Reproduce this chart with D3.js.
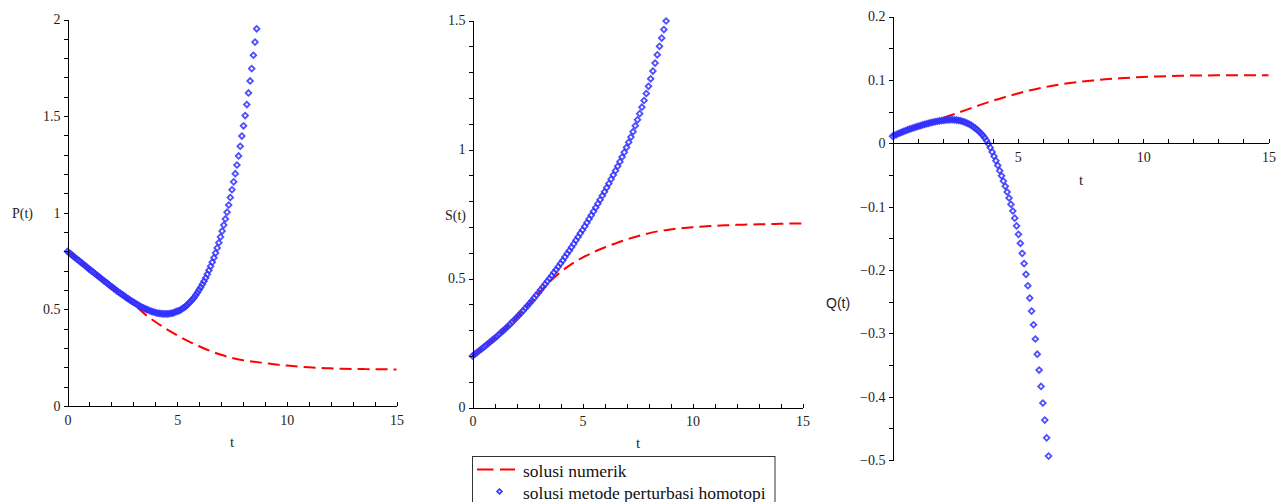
<!DOCTYPE html>
<html>
<head>
<meta charset="utf-8">
<script src="https://cdn.jsdelivr.net/npm/d3@7"></script>
<style>
  body { margin: 0; background: #fff; }
  svg { display: block; }
</style>
</head>
<body>
<div id="chart"></div>
<script>
// numerical solution, sampled every 0.5 in t
const tRed = [0, 0.5, 1, 1.5, 2, 2.5, 3, 3.5, 4, 4.5, 5, 5.5, 6, 6.5, 7, 7.5,
    8, 8.5, 9, 9.5, 10, 10.5, 11, 11.5, 12, 12.5, 13, 13.5, 14, 14.5, 15]
const pRed = [0.800, 0.754, 0.708, 0.663, 0.618, 0.575, 0.528, 0.478, 0.436, 0.399, 0.366,
    0.336, 0.309, 0.285, 0.265, 0.249, 0.237, 0.229, 0.222, 0.215, 0.209, 0.204, 0.200,
    0.197, 0.195, 0.193, 0.192, 0.191, 0.190, 0.190, 0.189]
const sRed = [0.200, 0.233, 0.268, 0.306, 0.348, 0.394, 0.442, 0.487, 0.525, 0.556, 0.581,
    0.602, 0.620, 0.636, 0.651, 0.664, 0.675, 0.684, 0.690, 0.695, 0.699, 0.702, 0.704,
    0.706, 0.708, 0.709, 0.710, 0.711, 0.712, 0.713, 0.713]
const qRed = [0.0110, 0.0195, 0.0265, 0.0330, 0.0395, 0.0465, 0.0535, 0.0605, 0.0670, 0.0730,
    0.0785, 0.0835, 0.0878, 0.0915, 0.0945, 0.0970, 0.0990, 0.1008, 0.1022, 0.1035, 0.1045,
    0.1053, 0.1060, 0.1065, 0.1068, 0.1070, 0.1071, 0.1072, 0.1073, 0.1073, 0.1073]

// homotopy perturbation points, one every <step> from t = 0
const pStep = 0.075
const pHpm = [0.800, 0.793, 0.786, 0.779, 0.772, 0.765, 0.758, 0.752, 0.745, 0.738,
    0.731, 0.724, 0.717, 0.710, 0.703, 0.697, 0.690, 0.683, 0.676, 0.670,
    0.663, 0.656, 0.649, 0.643, 0.636, 0.629, 0.622, 0.616, 0.609, 0.603,
    0.596, 0.590, 0.584, 0.578, 0.572, 0.566, 0.560, 0.554, 0.548, 0.543,
    0.538, 0.532, 0.527, 0.522, 0.517, 0.512, 0.508, 0.504, 0.500, 0.497,
    0.493, 0.490, 0.487, 0.485, 0.482, 0.480, 0.479, 0.478, 0.477, 0.477,
    0.477, 0.477, 0.478, 0.480, 0.481, 0.484, 0.488, 0.491, 0.494, 0.499,
    0.505, 0.510, 0.517, 0.525, 0.534, 0.542, 0.552, 0.562, 0.574, 0.587,
    0.601, 0.614, 0.630, 0.646, 0.663, 0.682, 0.702, 0.723, 0.744, 0.767,
    0.792, 0.818, 0.845, 0.875, 0.905, 0.936, 0.968, 1.003, 1.040, 1.079,
    1.119, 1.160, 1.202, 1.247, 1.294, 1.344, 1.397, 1.450, 1.503, 1.560,
    1.620, 1.682, 1.746, 1.815, 1.883, 1.952]

const sStep = 0.1
const sHpm = [0.200, 0.206, 0.213, 0.220, 0.226, 0.233, 0.240, 0.247, 0.254, 0.261,
    0.268, 0.275, 0.283, 0.291, 0.298, 0.306, 0.314, 0.322, 0.331, 0.339,
    0.348, 0.357, 0.366, 0.375, 0.385, 0.394, 0.404, 0.414, 0.424, 0.435,
    0.445, 0.456, 0.467, 0.478, 0.489, 0.500, 0.511, 0.523, 0.534, 0.546,
    0.558, 0.570, 0.583, 0.596, 0.608, 0.621, 0.634, 0.648, 0.661, 0.675,
    0.688, 0.702, 0.716, 0.731, 0.745, 0.760, 0.775, 0.790, 0.805, 0.821,
    0.836, 0.852, 0.868, 0.885, 0.901, 0.918, 0.935, 0.953, 0.971, 0.989,
    1.008, 1.028, 1.048, 1.069, 1.092, 1.115, 1.139, 1.164, 1.190, 1.217,
    1.245, 1.274, 1.304, 1.335, 1.367, 1.400, 1.432, 1.465, 1.498]

const qStep = 0.075
const qHpm = [0.0110, 0.0124, 0.0137, 0.0150, 0.0163, 0.0175, 0.0187, 0.0199, 0.0210, 0.0221,
    0.0231, 0.0241, 0.0251, 0.0261, 0.0270, 0.0279, 0.0288, 0.0296, 0.0305, 0.0313,
    0.0320, 0.0328, 0.0335, 0.0341, 0.0347, 0.0352, 0.0357, 0.0361, 0.0365, 0.0367,
    0.0369, 0.0370, 0.0370, 0.0369, 0.0366, 0.0361, 0.0355, 0.0347, 0.0337, 0.0326,
    0.0313, 0.0297, 0.0280, 0.0260, 0.0238, 0.0213, 0.0187, 0.0157, 0.0125, 0.0088,
    0.0043, -0.0010, -0.0070, -0.0138, -0.0205, -0.0275, -0.0350, -0.0433, -0.0515, -0.0598,
    -0.0680, -0.0770, -0.0865, -0.0965, -0.1070, -0.1183, -0.1305, -0.1438, -0.1580, -0.1738,
    -0.1900, -0.2070, -0.2250, -0.2445, -0.2650, -0.2865, -0.3090, -0.3330, -0.3580, -0.3838,
    -0.4100, -0.4370, -0.4650, -0.4938]

// ticks
const tTicks = [0, 5, 10, 15]
const tTicksQ = [5, 10, 15]
const pTicks = [0, 0.5, 1, 1.5, 2]
const sTicks = [0, 0.5, 1, 1.5]
const qTicks = [-0.5, -0.4, -0.3, -0.2, -0.1, 0, 0.1, 0.2]

const legendLabels = ["solusi numerik", "solusi metode perturbasi homotopi"]

const serif = "Liberation Serif, Times New Roman, serif"
const sans = "Liberation Sans, Arial, sans-serif"
const red = "#ff0000", blue = "#3030ff"

const svg = d3.select("#chart")
    .append("svg")
    .attr("width", 1288)
    .attr("height", 502)
    .style("font-family", serif)

function styleAxis(g) {
    g.attr("font-family", null).attr("font-size", null)
    g.style("font-family", serif).style("font-size", "14px")
    g.selectAll(".domain").attr("stroke", "#000")
    g.selectAll(".tick line").attr("stroke", "#000")
    g.selectAll(".tick text").attr("fill", "#1e1e1e")
}

function drawPanel(p) {
    const x = d3.scaleLinear().domain([0, 15]).range(p.xRange)
    const y = d3.scaleLinear().domain(p.yDomain).range(p.yRange)
    const g = svg.append("g")

    // numerical solution (dashed)
    const line = d3.line()
        .x((d, i) => x(tRed[i]))
        .y(d => y(d))
        .curve(d3.curveMonotoneX)

    g.append("path")
        .datum(p.red)
        .attr("fill", "none")
        .attr("stroke", red)
        .attr("stroke-width", 2)
        .attr("stroke-dasharray", "12,6")
        .attr("d", line)

    // homotopy perturbation points
    g.append("g")
        .selectAll("path")
        .data(p.hpm)
        .join("path")
        .attr("transform", (d, i) => `translate(${x(i * p.step)},${y(d)}) rotate(45)`)
        .attr("d", d3.symbol(d3.symbolSquare, 16))
        .attr("fill", "none")
        .attr("stroke", blue)
        .attr("stroke-width", 1.8)
        .attr("stroke-opacity", 0.85)

    // axes
    const axisG = g.append("g").attr("shape-rendering", "crispEdges")
    const y0 = y(0)

    axisG.append("g")
        .attr("transform", `translate(0,${y0})`)
        .call(d3.axisBottom(x).tickValues(d3.range(0, 16)).tickSizeInner(-4).tickSizeOuter(0).tickFormat(""))
        .call(styleAxis)

    axisG.append("g")
        .attr("transform", `translate(0,${y0})`)
        .call(d3.axisBottom(x).tickValues(p.xTicks).tickSizeInner(-4).tickSizeOuter(0).tickPadding(9))
        .call(g => g.select(".domain").remove())
        .call(styleAxis)

    axisG.append("g")
        .attr("transform", `translate(${p.xRange[0]},0)`)
        .call(d3.axisLeft(y).tickValues(d3.range(p.yDomain[0], p.yDomain[1] + 1e-9, p.minor)).tickSizeInner(4).tickSizeOuter(0).tickFormat(""))
        .call(styleAxis)

    axisG.append("g")
        .attr("transform", `translate(${p.xRange[0]},0)`)
        .call(d3.axisLeft(y).tickValues(p.yTicks).tickSizeInner(4).tickSizeOuter(0).tickPadding(3).tickFormat(d => d3.format("")(d)))
        .call(g => g.select(".domain").remove())
        .call(styleAxis)

    // axis titles
    g.append("text")
        .attr("x", p.yLabelPos[0])
        .attr("y", p.yLabelPos[1])
        .style("font-size", "14px")
        .style("font-family", p.yLabelFont || serif)
        .attr("fill", "#1e1e1e")
        .text(p.yLabel)

    g.append("text")
        .attr("x", p.tLabelPos[0])
        .attr("y", p.tLabelPos[1])
        .attr("text-anchor", "middle")
        .style("font-size", "15px")
        .attr("fill", "#1e1e1e")
        .text("t")
}

drawPanel({
    xRange: [67.5, 396.5], yDomain: [0, 2], yRange: [406, 19.5],
    red: pRed, hpm: pHpm, step: pStep, xTicks: tTicks, yTicks: pTicks, minor: 0.1,
    yLabel: "P(t)", yLabelPos: [12, 218], tLabelPos: [232, 447]
})

drawPanel({
    xRange: [472.5, 802.5], yDomain: [0, 1.5], yRange: [407.5, 20.5],
    red: sRed, hpm: sHpm, step: sStep, xTicks: tTicks, yTicks: sTicks, minor: 0.1,
    yLabel: "S(t)", yLabelPos: [445, 220], tLabelPos: [638, 448]
})

drawPanel({
    xRange: [892.5, 1268.5], yDomain: [-0.5, 0.2], yRange: [460, 16.5],
    red: qRed, hpm: qHpm, step: qStep, xTicks: tTicksQ, yTicks: qTicks, minor: 0.05,
    yLabel: "Q(t)", yLabelPos: [826, 308], yLabelFont: sans,
    tLabelPos: [1081, 185]
})

// legend
const legend = svg.append("g")

legend.append("rect")
    .attr("x", 472.5)
    .attr("y", 456.5)
    .attr("width", 302.5)
    .attr("height", 60)
    .attr("fill", "#fff")
    .attr("stroke", "#333")

legend.append("line")
    .attr("x1", 477)
    .attr("x2", 515)
    .attr("y1", 469.5)
    .attr("y2", 469.5)
    .attr("stroke", red)
    .attr("stroke-width", 2)
    .attr("stroke-dasharray", "16.5,6.5")

legend.append("path")
    .attr("transform", "translate(499.5,491.5) rotate(45)")
    .attr("d", d3.symbol(d3.symbolSquare, 12))
    .attr("fill", "none")
    .attr("stroke", blue)
    .attr("stroke-width", 1.6)

legend.selectAll("text")
    .data(legendLabels)
    .join("text")
    .attr("x", 523)
    .attr("y", (d, i) => 477 + i * 22)
    .style("font-size", "17.5px")
    .attr("fill", "#111")
    .text(d => d)
</script>
</body>
</html>
